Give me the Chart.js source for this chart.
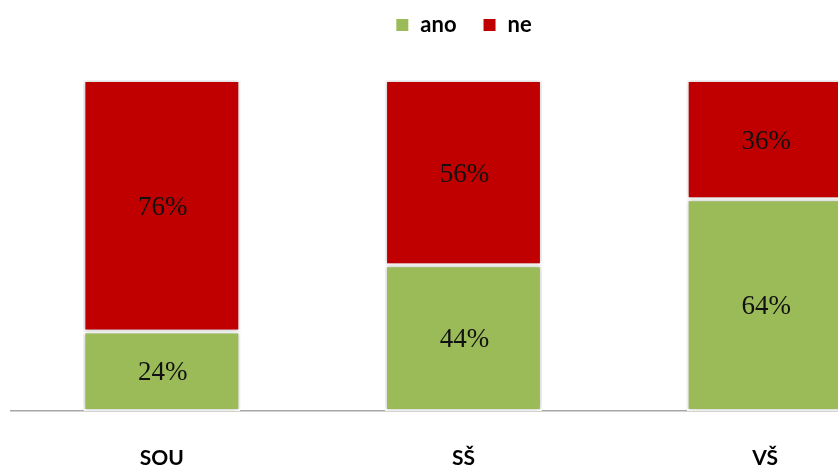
<!DOCTYPE html>
<html>
<head>
<meta charset="utf-8">
<script src="https://cdn.jsdelivr.net/npm/chart.js@4/dist/chart.umd.min.js"></script>
<style>
html,body{margin:0;padding:0;background:#fff;overflow:hidden;}
#wrap{width:930px;height:469px;}
</style>
</head>
<body>
<div id="wrap"><canvas id="c" width="930" height="469"></canvas></div>
<script>
const categories = ["SOU", "SŠ", "VŠ"];
const anoValues = [24, 44, 64];
const neValues = [76, 56, 36];
const seriesNames = ["ano", "ne"];

const shadowPlugin = {
  id: 'barShadow',
  beforeDatasetsDraw(chart) {
    const ctx = chart.ctx;
    ctx.save();
    ctx.shadowColor = 'rgba(0,0,0,0.28)';
    ctx.shadowBlur = 4;
    ctx.shadowOffsetX = 0;
    ctx.shadowOffsetY = 0;
  },
  afterDatasetsDraw(chart) {
    chart.ctx.restore();
  }
};

const labelPlugin = {
  id: 'valueLabels',
  afterDatasetsDraw(chart) {
    const ctx = chart.ctx;
    ctx.save();
    ctx.font = '27px "Liberation Serif", "Times New Roman", serif';
    ctx.fillStyle = '#111';
    ctx.textAlign = 'center';
    ctx.textBaseline = 'middle';
    chart.data.datasets.forEach((ds, di) => {
      const meta = chart.getDatasetMeta(di);
      meta.data.forEach((el, i) => {
        const p = el.getCenterPoint();
        ctx.fillText(ds.data[i] + '%', p.x + 1, p.y + 2);
      });
    });
    ctx.restore();
  }
};

const chart = new Chart(document.getElementById('c'), {
  type: 'bar',
  data: {
    labels: categories,
    datasets: [
      { label: seriesNames[0], data: anoValues, backgroundColor: '#9BBB59', borderColor: '#ffffff', borderWidth: 2, borderSkipped: false },
      { label: seriesNames[1], data: neValues, backgroundColor: '#C00000', borderColor: '#ffffff', borderWidth: 2, borderSkipped: false }
    ]
  },
  options: {
    responsive: false,
    animation: false,
    layout: { padding: { left: 11, right: 14, top: -12, bottom: 0 } },
    datasets: { bar: { categoryPercentage: 1, barPercentage: 0.52 } },
    plugins: {
      tooltip: { enabled: false },
      legend: {
        position: 'top',
        labels: {
          boxWidth: 14, boxHeight: 14, padding: 26,
          color: '#000',
          font: { family: 'Lato, "Open Sans", sans-serif', size: 22, weight: 'bold' }
        }
      }
    },
    scales: {
      x: {
        stacked: true,
        offset: true,
        grid: { display: false, drawTicks: false },
        border: { display: true, color: '#a6a6a6', width: 1.5 },
        ticks: { padding: 35, color: '#000', font: { family: 'Lato, "Open Sans", sans-serif', size: 21, weight: 'bold' } },
        afterFit(scale) { scale.height = 58; }
      },
      y: {
        stacked: true,
        display: false,
        min: 0, max: 100
      }
    }
  },
  plugins: [shadowPlugin, labelPlugin]
});

const lg = chart.legend;
if (lg) {
  const origFit = lg.fit;
  lg.fit = function () {
    origFit.call(this);
    this.height = 92;
  };
  chart.update();
}
</script>
</body>
</html>
